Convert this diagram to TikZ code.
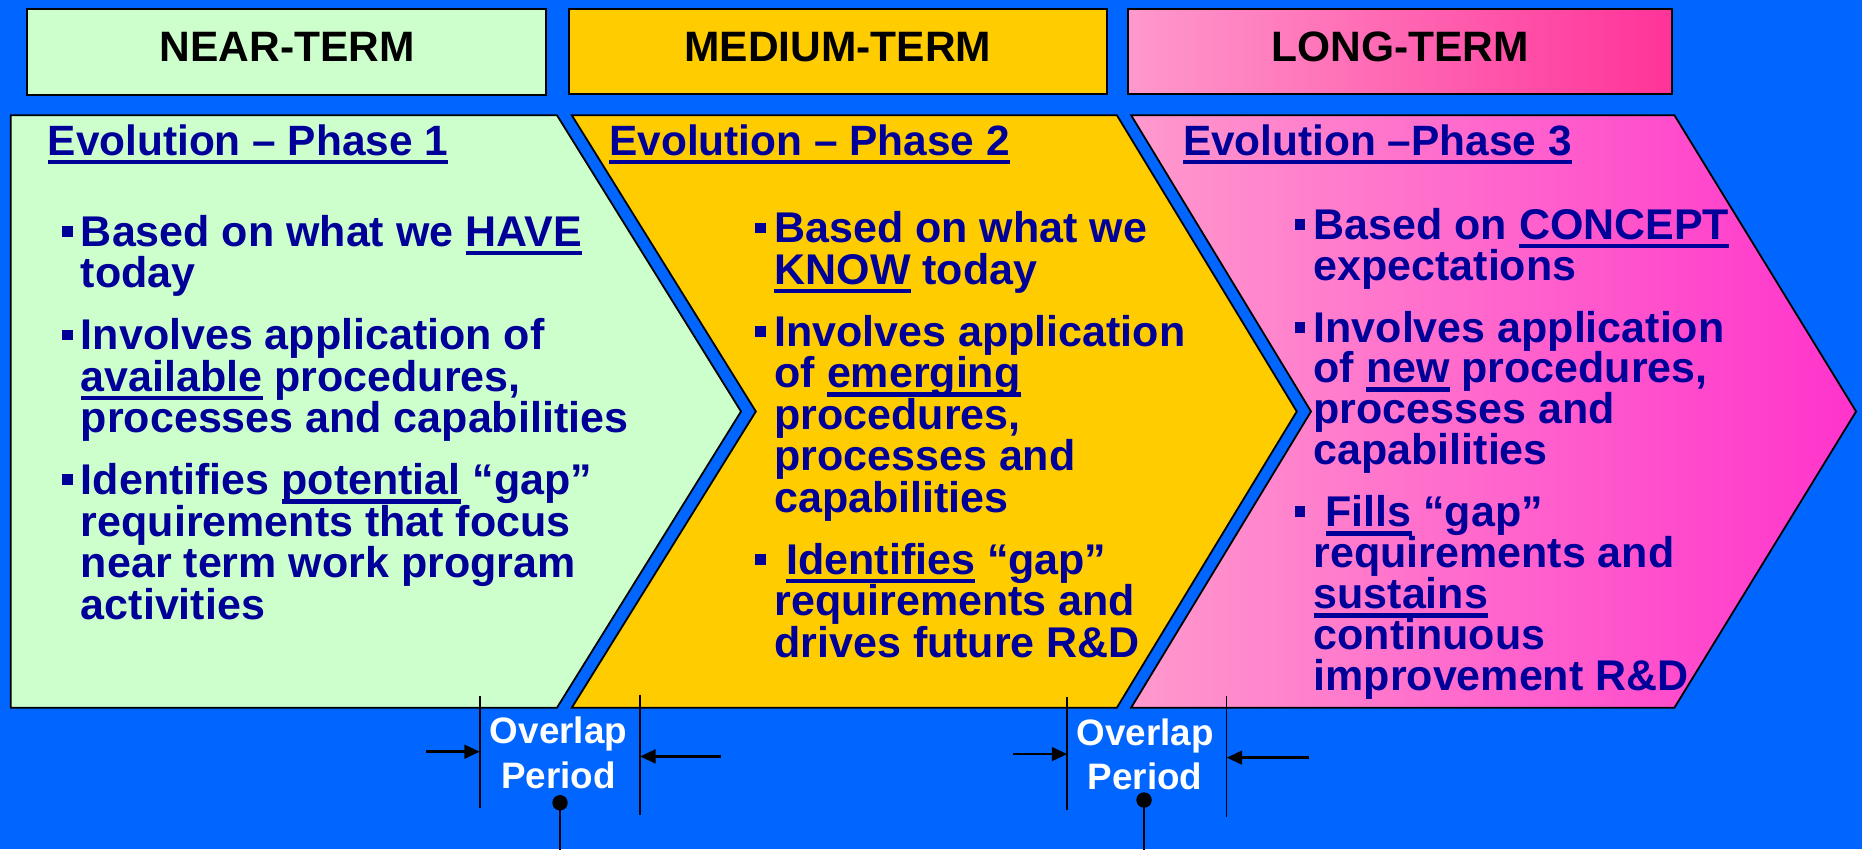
\documentclass[tikz,border=0pt]{standalone}
\usepackage{fontspec}
\setmainfont{Liberation Sans}
\usetikzlibrary{arrows.meta}
\definecolor{bgblue}{HTML}{0066FF}
\definecolor{ngreen}{HTML}{CCFFCC}
\definecolor{myellow}{HTML}{FFCC00}
\definecolor{lpink}{HTML}{FF99CC}
\definecolor{hpink}{HTML}{FF3399}
\definecolor{mpink}{HTML}{FF33CC}
\definecolor{dkblue}{HTML}{000099}
\newcommand\ulw[1]{\setbox0=\hbox{#1}\rlap{\rule[-7.5pt]{\wd0}{3.8pt}}\box0\relax}
\newcommand\bx{\rule[8pt]{9pt}{9pt}\hspace{7pt}}
\begin{document}
\begin{tikzpicture}[x=1pt,y=-1pt,
  hdr/.style={draw=black,line width=1.8pt},
  htxt/.style={anchor=base,inner sep=0pt,font=\fontsize{35.8}{36}\selectfont\bfseries,text=black},
  chev/.style={draw=black,line width=1.5pt,line join=miter},
  ttxt/.style={anchor=base west,inner sep=0pt,font=\fontsize{35.7}{36}\selectfont\bfseries,text=dkblue},
  btxt/.style={anchor=base west,inner sep=0pt,font=\fontsize{36.2}{36}\selectfont\bfseries,text=dkblue},
  otxt/.style={anchor=base,inner sep=0pt,font=\fontsize{31}{31}\selectfont\bfseries,text=white},
  vline/.style={line width=1.3pt},
  harrow/.style={line width=2.3pt,-{Triangle[length=13pt,width=11.5pt]}},
  dotline/.style={line width=2.2pt},
  dotnode/.style={circle,fill=black,inner sep=0pt,minimum size=13pt}]
\fill[bgblue] (0,0) rectangle (1568,715);
\useasboundingbox (0,0) rectangle (1568,715);

% header boxes
\path[hdr,fill=ngreen] (23,7.6) rectangle (460,80);
\path[hdr,fill=myellow] (479,7.6) rectangle (932,79);
\path[hdr,left color=lpink,right color=hpink] (950,7.6) rectangle (1408,79);
\node[htxt] (hnear) at (242,51.5) {NEAR-TERM};
\node[htxt] (hmed) at (705.5,51.5) {MEDIUM-TERM};
\node[htxt] (hlong) at (1179,51.5) {LONG-TERM};

% chevrons
\path[chev,fill=ngreen] (9,97) -- (469,97) -- (624,346.5) -- (469,596) -- (9,596) -- cycle;
\path[chev,fill=myellow] (481.5,97) -- (940.5,97) -- (1092,346.5) -- (940.5,596) -- (481.5,596) -- (636.5,346.5) -- cycle;
\path[chev,left color=lpink,right color=mpink] (952.5,97) -- (1410,97) -- (1563,346.5) -- (1410,596) -- (952.5,596) -- (1104,346.5) -- cycle;

% titles
\node[ttxt] (t1) at (40,131) {\ulw{Evolution – Phase 1}};
\node[ttxt] (t2) at (513,131) {\ulw{Evolution – Phase 2}};
\node[ttxt] (t3) at (996,131) {\ulw{Evolution –Phase 3}};

% phase 1
\node[btxt] (p1a) at (52,207.5) {\bx Based on what we \ulw{HAVE}};
\node[btxt] (p1b) at (68,242.5) {today};
\node[btxt] (p1c) at (52,294.5) {\bx Involves application of};
\node[btxt] (p1d) at (68,329.5) {\ulw{available} procedures,};
\node[btxt] (p1e) at (68,364.5) {processes and capabilities};
\node[btxt] (p1f) at (52,416.5) {\bx Identifies \ulw{potential} “gap”};
\node[btxt] (p1g) at (68,451.5) {requirements that focus};
\node[btxt] (p1h) at (68,486.5) {near term work program};
\node[btxt] (p1i) at (68,521.5) {activities};

% phase 2
\node[btxt] (p2a) at (636,204.5) {\bx Based on what we};
\node[btxt] (p2b) at (652,239.5) {\ulw{KNOW} today};
\node[btxt] (p2c) at (636,291.5) {\bx Involves application};
\node[btxt] (p2d) at (652,326.5) {of \ulw{emerging}};
\node[btxt] (p2e) at (652,361.5) {procedures,};
\node[btxt] (p2f) at (652,396.5) {processes and};
\node[btxt] (p2g) at (652,431.5) {capabilities};
\node[btxt] (p2h) at (636,483.5) {\bx\ \ulw{Identifies} “gap”};
\node[btxt] (p2i) at (652,518.5) {requirements and};
\node[btxt] (p2j) at (652,553.5) {drives future R\&D};

% phase 3
\node[btxt] (p3a) at (1090,201.5) {\bx Based on \ulw{CONCEPT}};
\node[btxt] (p3b) at (1106,236) {expectations};
\node[btxt] (p3c) at (1090,288) {\bx Involves application};
\node[btxt] (p3d) at (1106,322.5) {of \ulw{new} procedures,};
\node[btxt] (p3e) at (1106,357) {processes and};
\node[btxt] (p3f) at (1106,391.5) {capabilities};
\node[btxt] (p3g) at (1090,443.5) {\bx\ \ulw{Fills} “gap”};
\node[btxt] (p3h) at (1106,478) {requirements and};
\node[btxt] (p3i) at (1106,512.5) {\ulw{sustains}};
\node[btxt] (p3j) at (1106,547) {continuous};
\node[btxt] (p3k) at (1106,581.5) {improvement R\&D};

% overlap 1
\coordinate (a1t) at (404,586);
\coordinate (a1b) at (404,680);
\coordinate (b1t) at (539,585);
\coordinate (b1b) at (539,686);
\draw[vline] (a1t) -- (a1b);
\draw[vline] (b1t) -- (b1b);
\coordinate (a1s) at (359,633);
\coordinate (b1s) at (607,637);
\draw[harrow] (a1s) -- (a1t |- a1s);
\draw[harrow] (b1s) -- (b1t |- b1s);
\node[otxt] (ov1a) at (470.3,626.5) {Overlap};
\node[otxt] (ov1b) at (470.3,664) {Period};
\node[dotnode] (d1) at (471.6,676) {};
\coordinate (d1e) at (471.6,716);
\draw[dotline] (d1.center) -- (d1e);

% overlap 2
\coordinate (a2t) at (898.7,587);
\coordinate (a2b) at (898.7,682);
\coordinate (b2t) at (1033,586);
\coordinate (b2b) at (1033,688);
\draw[vline] (a2t) -- (a2b);
\draw[vline] (b2t) -- (b2b);
\coordinate (a2s) at (853,635);
\coordinate (b2s) at (1102,638);
\draw[harrow] (a2s) -- (a2t |- a2s);
\draw[harrow] (b2s) -- (b2t |- b2s);
\node[otxt] (ov2a) at (964.3,627.4) {Overlap};
\node[otxt] (ov2b) at (964.3,665) {Period};
\node[dotnode] (d2) at (963.4,673.7) {};
\coordinate (d2e) at (963.4,716);
\draw[dotline] (d2.center) -- (d2e);
\end{tikzpicture}
\end{document}
